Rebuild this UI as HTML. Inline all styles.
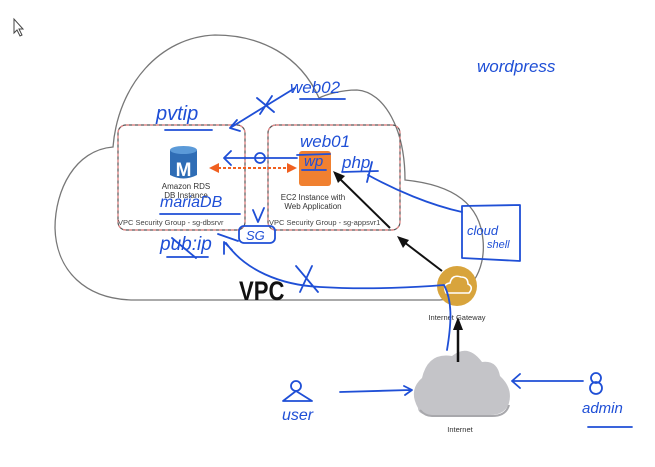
<!DOCTYPE html>
<html><head><meta charset="utf-8"><style>
html,body{margin:0;padding:0;background:#fff;width:655px;height:467px;overflow:hidden}
svg text{font-family:"Liberation Sans",sans-serif}
.h{fill:#1f4fd6;font-style:italic;font-family:"Liberation Sans",sans-serif}
.b{fill:none;stroke:#1f4fd6;stroke-width:1.8;stroke-linecap:round;stroke-linejoin:round}
</style></head><body>
<svg width="655" height="467" viewBox="0 0 655 467" xmlns="http://www.w3.org/2000/svg">
<path d="M14,19 L14,33 L17,30 L20,36 L22,35 L19,29 L23,29 Z" fill="#fff" stroke="#444" stroke-width="1"/>
<!-- VPC cloud -->
<path d="M135,300 L440,300 C470,298 486,270 483,240 C480,205 455,185 405,180 C405,130 385,92 357,90 C340,90 325,95 319,98 C300,55 260,35 215,35 C160,37 118,85 113,147 C75,150 55,190 55,228 C56,270 85,300 135,300 Z" fill="none" stroke="#777" stroke-width="1.3"/>
<!-- security group boxes -->
<rect x="118" y="125" width="127" height="105" rx="8" fill="none" stroke="#555" stroke-width="1.2"/>
<rect x="118" y="125" width="127" height="105" rx="8" fill="none" stroke="#e88" stroke-width="1.2" stroke-dasharray="3 3"/>
<rect x="268" y="125" width="132" height="105" rx="8" fill="none" stroke="#555" stroke-width="1.2"/>
<rect x="268" y="125" width="132" height="105" rx="8" fill="none" stroke="#e88" stroke-width="1.2" stroke-dasharray="3 3"/>
<!-- RDS icon -->
<path d="M170,150 L170,175 Q183.5,182 197,175 L197,150 Z" fill="#2f6db5"/>
<ellipse cx="183.5" cy="150" rx="13.5" ry="4" fill="#5b9ad8"/>
<text x="183.5" y="176" font-size="19" font-weight="bold" fill="#fff" text-anchor="middle">M</text>
<text x="186" y="189" font-size="8" fill="#333" text-anchor="middle">Amazon RDS</text>
<text x="186" y="198" font-size="8" fill="#333" text-anchor="middle">DB Instance</text>
<text x="118" y="225" font-size="7.5" fill="#444">VPC Security Group - sg-dbsrvr</text>
<!-- EC2 icon -->
<rect x="299" y="151" width="32" height="35" rx="3" fill="#f08030"/>
<text x="313" y="200" font-size="8" fill="#333" text-anchor="middle">EC2 Instance with</text>
<text x="313" y="209" font-size="8" fill="#333" text-anchor="middle">Web Application</text>
<text x="269" y="225" font-size="7.5" fill="#444">VPC Security Group - sg-appsvr1</text>
<!-- dashed orange arrow -->
<line x1="218" y1="168" x2="288" y2="168" stroke="#f06020" stroke-width="2" stroke-dasharray="3 2"/>
<path d="M209,168 L219,163 L219,173 Z" fill="#f06020"/>
<path d="M297,168 L287,163 L287,173 Z" fill="#f06020"/>
<!-- VPC label -->
<text x="0" y="0" font-size="27" font-weight="bold" fill="#111" transform="translate(239,300) scale(0.82,1)">VPC</text>
<!-- Internet gateway -->
<circle cx="457" cy="286" r="20" fill="#d8a43c"/>
<path d="M446,293 Q442,284 450,283 Q452,274 461,277 Q468,277 468,284 Q474,287 469,293 Z" fill="none" stroke="#fff" stroke-width="1.6"/>
<text x="457" y="320" font-size="7.5" fill="#333" text-anchor="middle">Internet Gateway</text>
<!-- internet cloud -->
<path d="M418,408 Q408,390 422,378 Q428,352 452,356 Q468,343 482,362 Q497,360 500,376 Q513,388 509,403 Q505,415 490,415 L428,415 Q418,414 418,408 Z" fill="#c4c4c8"/>
<path d="M420,410 Q425,416 432,416 L492,416 Q506,416 509,405" fill="none" stroke="#a8a8ac" stroke-width="2"/>
<text x="460" y="432" font-size="7.5" fill="#333" text-anchor="middle">Internet</text>
<!-- black arrows -->
<line x1="458" y1="362" x2="458" y2="328" stroke="#111" stroke-width="2.5"/>
<path d="M458,317 L453,330 L463,330 Z" fill="#111"/>
<line x1="442" y1="271" x2="404" y2="242" stroke="#111" stroke-width="2"/>
<path d="M397,236 L409,240 L403,248 Z" fill="#111"/>
<line x1="390" y1="228" x2="339" y2="178" stroke="#111" stroke-width="2"/>
<path d="M333,171 L345,176 L338,183 Z" fill="#111"/>
<!-- handwriting -->
<text class="h" x="477" y="72" font-size="17">wordpress</text>
<text class="h" x="290" y="93" font-size="17">web02</text>
<path class="b" d="M300,99 L345,99"/>
<text class="h" x="156" y="120" font-size="20">pvtip</text>
<path class="b" d="M165,130 L212,130"/>
<path class="b" d="M295,88 L230,128 M237,120 L230,128 L240,131 M257,98 L274,112 M272,96 L260,114"/>
<text class="h" x="300" y="147" font-size="17">web01</text>
<path class="b" d="M297,155 L330,154 M224,158 L297,158 M224,158 L231,151 M224,158 L231,165"/>
<circle class="b" cx="260" cy="158" r="5"/>
<text class="h" x="304" y="166" font-size="15">wp</text>
<path class="b" d="M302,170 L326,170"/>
<text class="h" x="342" y="168" font-size="17">php</text>
<path class="b" d="M342,172 L378,171 M372,162 L367,182 M368,175 C395,190 430,205 462,212"/>
<text class="h" x="160" y="207" font-size="16">mariaDB</text>
<path class="b" d="M160,214 L240,214"/>
<path class="b" d="M462,206 L462,258 M462,206 L520,205 L520,261 L462,258"/>
<text class="h" x="467" y="235" font-size="13">cloud</text>
<text class="h" x="487" y="248" font-size="11">shell</text>
<path class="b" d="M253,210 L258,222 L264,208"/>
<rect class="b" x="239" y="226" width="36" height="17" rx="5"/>
<text class="h" x="246" y="240" font-size="13">SG</text>
<text class="h" x="160" y="250" font-size="19">pub:ip</text>
<path class="b" d="M167,257 L208,257 M172,238 L196,258 M218,234 L238,241"/>
<path class="b" d="M226,243 C245,270 280,285 320,287 C370,290 420,287 444,285 C452,300 452,320 447,350 M224,242 L224,254 M224,242 L232,250 M296,266 L318,292 M312,266 L300,292"/>
<!-- user -->
<circle class="b" cx="296" cy="386" r="5"/>
<path class="b" d="M283,401 L296,391 L312,401 Z"/>
<text class="h" x="282" y="420" font-size="16">user</text>
<path class="b" d="M340,392 L410,390 M404,386 L412,390 L405,395"/>
<!-- admin -->
<circle class="b" cx="596" cy="378" r="5"/>
<circle class="b" cx="596" cy="388" r="6"/>
<text class="h" x="582" y="413" font-size="15">admin</text>
<path class="b" d="M588,427 L632,427 M512,381 L583,381 M512,381 L520,374 M512,381 L520,388"/>
</svg>
</body></html>
